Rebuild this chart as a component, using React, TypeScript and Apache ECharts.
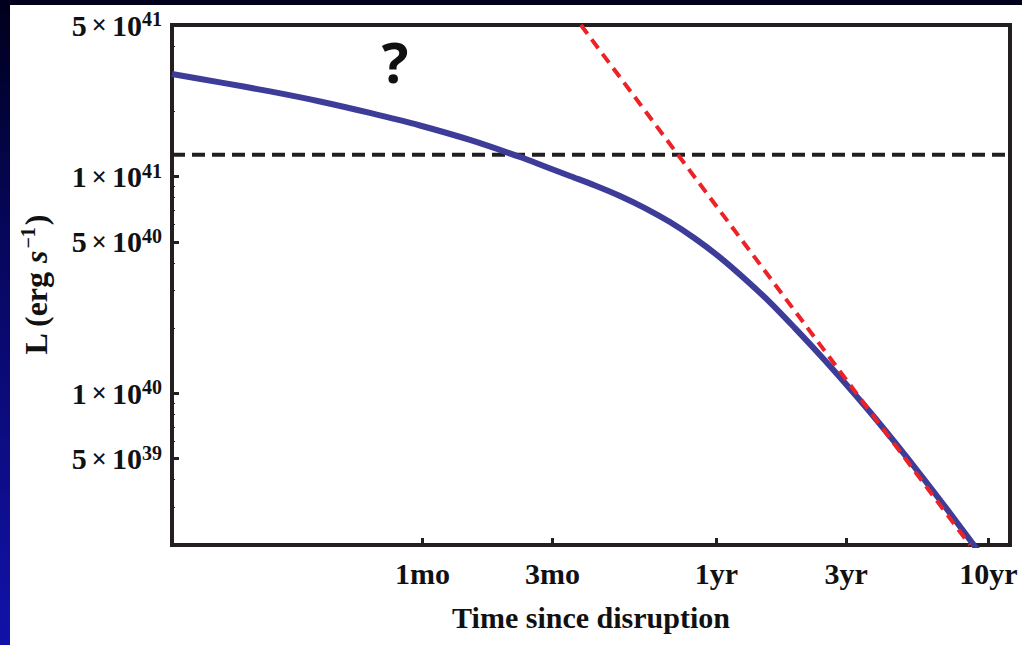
import React, { useEffect, useRef } from "react";
import * as echarts from "echarts";

// ---- data (time in years, luminosity in erg/s) ----
const curveTime = [0.01, 0.01501, 0.02292, 0.03499, 0.0534, 0.0815, 0.1244, 0.19, 0.2347, 0.29, 0.3583, 0.4426, 0.5468, 0.6757, 0.8349, 1.031, 1.274, 1.575, 1.945, 2.404, 2.97, 3.669, 4.533, 5.602, 6.921, 8.696, 11.02];
const curveLum = [2.97e41, 2.72e41, 2.47e41, 2.22e41, 1.965e41, 1.72e41, 1.475e41, 1.231e41, 1.113e41, 1.006e41, 9.1e40, 8.14e40, 7.16e40, 6.17e40, 5.18e40, 4.24e40, 3.37e40, 2.63e40, 2.0e40, 1.504e40, 1.117e40, 8.21e39, 5.94e39, 4.25e39, 3.01e39, 2.055e39, 1.38e39];
const powerLawTime = [0.318, 8.55];
const powerLawLum = [5e41, 2e39];
const eddingtonLum = 1.26e41;

const xRange = [0.01, 12];
const yRange = [2e39, 5e41];

const xTickYears = [1 / 12, 0.25, 1, 3, 10];
const xTickLabels = ["1mo", "3mo", "1yr", "3yr", "10yr"];
const yMajorTicks = [5e41, 1e41, 5e40, 1e40, 5e39];
const yMinorTicks = [4e41, 3e41, 2e41, 9e40, 8e40, 7e40, 6e40, 4e40, 3e40, 2e40, 9e39, 8e39, 7e39, 6e39, 4e39, 3e39];

const lg = (v: number) => Math.log10(v);

export default function App() {
  const ref = useRef<HTMLDivElement>(null);
  useEffect(() => {
    if (!ref.current) return;
    const chart = echarts.init(ref.current, null, { renderer: "svg" });
    const serif = "'Liberation Serif', 'Times New Roman', serif";
    const axisColor = "#231f20";
    const yFormatter = (v: number) => {
      const exp = Math.floor(v + 1e-9);
      const mant = Math.round(Math.pow(10, v - exp));
      return `{m|${mant}}{x|×}{m|10}{s|${exp}}`;
    };
    const xFormatter = (v: number) => {
      let best = 0;
      let d = Infinity;
      xTickYears.forEach((t, i) => {
        const dd = Math.abs(lg(t) - v);
        if (dd < d) { d = dd; best = i; }
      });
      return xTickLabels[best];
    };
    const labelRich = {
      m: { fontFamily: serif, fontWeight: "bold", fontSize: 30, color: "#111", lineHeight: 32 },
      x: { fontFamily: serif, fontWeight: "bold", fontSize: 27, color: "#111", padding: [0, 5, 0, 5], lineHeight: 32 },
      s: { fontFamily: serif, fontWeight: "bold", fontSize: 20, color: "#111", verticalAlign: "top", lineHeight: 32, padding: [0, 0, 15, 0] },
    };
    const option: any = {
      animation: false,
      backgroundColor: "#ffffff",
      grid: {
        left: 162, right: 12, top: 20, bottom: 100,
        outerBoundsMode: "none",
        containLabel: false,
        show: true, borderColor: axisColor, borderWidth: 4, backgroundColor: "transparent",
      },
      xAxis: {
        type: "value",
        min: lg(xRange[0]),
        max: lg(xRange[1]),
        axisLine: { show: false, onZero: false },
        splitLine: { show: false },
        axisTick: {
          inside: true, length: 7,
          customValues: xTickYears.map(lg),
          lineStyle: { color: axisColor, width: 3 },
        },
        axisLabel: {
          customValues: xTickYears.map(lg),
          formatter: xFormatter,
          margin: 13,
          fontFamily: serif, fontWeight: "bold", fontSize: 30, color: "#111",
        },
        name: "Time since disruption",
        nameLocation: "middle",
        nameGap: 57,
        nameTextStyle: { fontFamily: serif, fontWeight: "bold", fontSize: 30, color: "#111" },
      },
      yAxis: [
        {
          type: "value",
          min: lg(yRange[0]),
          max: lg(yRange[1]),
          axisLine: { show: false, onZero: false },
          splitLine: { show: false },
          axisTick: {
            inside: true, length: 7,
            customValues: yMajorTicks.map(lg),
            lineStyle: { color: axisColor, width: 3 },
          },
          axisLabel: {
            customValues: yMajorTicks.map(lg),
            formatter: yFormatter,
            margin: 10,
            rich: labelRich,
          },
          name: "{m|L (erg }{i|s}{s|−1}{m|)}",
          nameLocation: "middle",
          nameRotate: 90,
          nameGap: 118,
          nameTextStyle: {
            rich: {
              m: { fontFamily: serif, fontWeight: "bold", fontSize: 32, color: "#111", lineHeight: 36 },
              i: { fontFamily: serif, fontWeight: "bold", fontStyle: "italic", fontSize: 32, color: "#111", lineHeight: 36 },
              s: { fontFamily: serif, fontWeight: "bold", fontSize: 20, color: "#111", verticalAlign: "top", lineHeight: 36, padding: [0, 2, 15, 2] },
            },
          },
        },
        {
          type: "value",
          min: lg(yRange[0]),
          max: lg(yRange[1]),
          position: "left",
          axisLine: { show: false, onZero: false },
          splitLine: { show: false },
          axisLabel: { show: false },
          axisTick: {
            inside: true, length: 3,
            customValues: yMinorTicks.map(lg),
            lineStyle: { color: axisColor, width: 1 },
          },
        },
      ],
      series: [
        {
          type: "line",
          name: "Eddington",
          data: xRange.map((t) => [lg(t), lg(eddingtonLum)]),
          symbol: "none",
          lineStyle: { color: axisColor, width: 4, type: [13, 7] },
          z: 3,
        },
        {
          type: "line",
          name: "Light curve",
          data: curveTime.map((t, i) => [lg(t), lg(curveLum[i])]),
          symbol: "none",
          smooth: 0.3,
          clip: true,
          lineStyle: { color: "#3d3d99", width: 6 },
          z: 4,
        },
        {
          type: "line",
          name: "t^-5/3",
          data: powerLawTime.map((t, i) => [lg(t), lg(powerLawLum[i])]),
          symbol: "none",
          lineStyle: { color: "#ec2227", width: 4, type: [11, 7] },
          z: 5,
        },
      ],
      graphic: [
        {
          type: "text",
          x: 385,
          y: 56,
          style: {
            text: "?",
            fontFamily: "'Open Sans', 'Noto Sans', sans-serif",
            fontWeight: "bold",
            fontSize: 56,
            fill: "#111",
            align: "center",
            verticalAlign: "middle",
          },
        },
      ],
    };
    chart.setOption(option);
    return () => chart.dispose();
  }, []);

  return (
    <div
      style={{
        position: "fixed", left: 0, top: 0, width: 1022, height: 645,
        background: "linear-gradient(to bottom, #00001c 0%, #06065a 35%, #1212aa 100%)",
      }}
    >
      <div ref={ref} style={{ position: "absolute", left: 10, top: 5, width: 1012, height: 640 }} />
    </div>
  );
}
